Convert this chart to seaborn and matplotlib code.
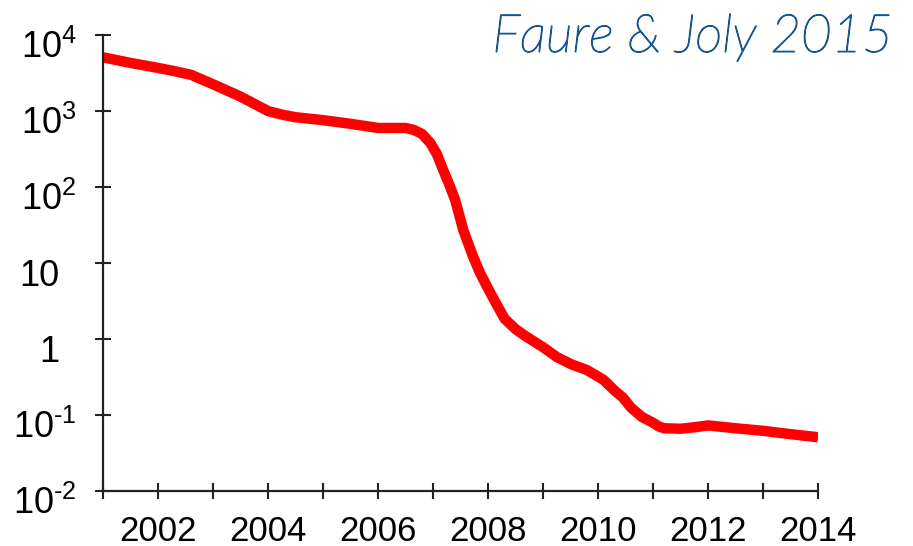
import numpy as np
import pandas as pd
import matplotlib
matplotlib.use("Agg")
import matplotlib.pyplot as plt
import matplotlib.transforms as mtransforms
import matplotlib.patheffects as pe
import seaborn as sns

# valeurs
annees = [2001.0, 2001.5, 2002.0, 2002.3, 2002.6, 2003.0, 2003.5, 2004.0, 2004.25, 2004.5, 2005.0,
          2005.5, 2006.0, 2006.5, 2006.65, 2006.8, 2006.95, 2007.07, 2007.18, 2007.3, 2007.4,
          2007.55, 2007.73, 2007.85, 2008.0, 2008.15, 2008.3, 2008.5, 2008.7,
          2009.0, 2009.25, 2009.5, 2009.8, 2010.1, 2010.3, 2010.45, 2010.6, 2010.8, 2011.0, 2011.1,
          2011.2, 2011.5, 2011.75, 2012.0, 2012.5, 2013.0, 2013.5, 2014.0]
valeurs = [5100, 4300, 3700, 3350, 3000, 2250, 1550, 1000, 900, 830, 760,
           680, 600, 600, 565, 500, 380, 270, 170, 105, 68,
           27, 12, 7.5, 4.6, 2.9, 1.85, 1.35, 1.07,
           0.78, 0.58, 0.47, 0.39, 0.29, 0.21, 0.17, 0.125, 0.094, 0.079, 0.071,
           0.067, 0.066, 0.069, 0.073, 0.067, 0.062, 0.056, 0.051]
yticks = [1e-2, 1e-1, 1, 10, 1e2, 1e3, 1e4]
ylabels = ["10$^{\u20102}$", "10$^{\u20101}$", "1", "10", "10$^{2}$", "10$^{3}$", "10$^{4}$"]
xticks = list(range(2001, 2015))
xlabels = [str(a) if a % 2 == 0 else "" for a in xticks]

df = pd.DataFrame({"annee": annees, "valeur": valeurs})

sns.set_style("white")
plt.rcParams["font.family"] = ["Liberation Sans", "DejaVu Sans"]
plt.rcParams["mathtext.fontset"] = "custom"
plt.rcParams["mathtext.rm"] = "Liberation Sans"
plt.rcParams["mathtext.it"] = "Liberation Sans"

fig = plt.figure(figsize=(9.13, 5.46), dpi=100)
ax = fig.add_axes([0.113, 0.1007, 0.783, 0.835])

sns.lineplot(data=df, x="annee", y="valeur", color="#ff0000", linewidth=7.5, ax=ax,
             solid_capstyle="butt", solid_joinstyle="round")
ax.set_yscale("log")
ax.set_xlim(2001, 2014)
ax.set_ylim(1e-2, 1e4)
ax.set_yticks(yticks)
ax.set_yticklabels(ylabels)
ax.minorticks_off()
ax.set_xticks(xticks)
ax.set_xticklabels(xlabels)
ax.set_xlabel("")
ax.set_ylabel("")

ax.spines[["top", "right"]].set_visible(False)
for s in ["left", "bottom"]:
    ax.spines[s].set_color("#222222")
    ax.spines[s].set_linewidth(1.6)
ax.tick_params(axis="both", bottom=True, left=True, direction="inout", length=12, width=1.5,
               color="#222222", labelcolor="black")
ax.tick_params(axis="x", pad=11, labelsize=25)
ax.tick_params(axis="y", pad=13, labelsize=26)

# les labels y sont un peu plus bas, et "1"/"10" ne s'alignent pas sur l'exposant
for lab, txt in zip(ax.get_yticklabels(), ylabels):
    dx = 0 if "$" in txt else -17
    off = mtransforms.ScaledTranslation(dx / 100, -9 / 100, fig.dpi_scale_trans)
    lab.set_transform(lab.get_transform() + off)

fig.text(0.978, 0.905, "Faure & Joly 2015", ha="right", va="baseline",
         fontsize=38, style="italic", color="#17558f", family="Lato", fontweight="light",
         path_effects=[pe.withStroke(linewidth=0.9, foreground="#17558f")])

plt.savefig("out.png", dpi=100)
